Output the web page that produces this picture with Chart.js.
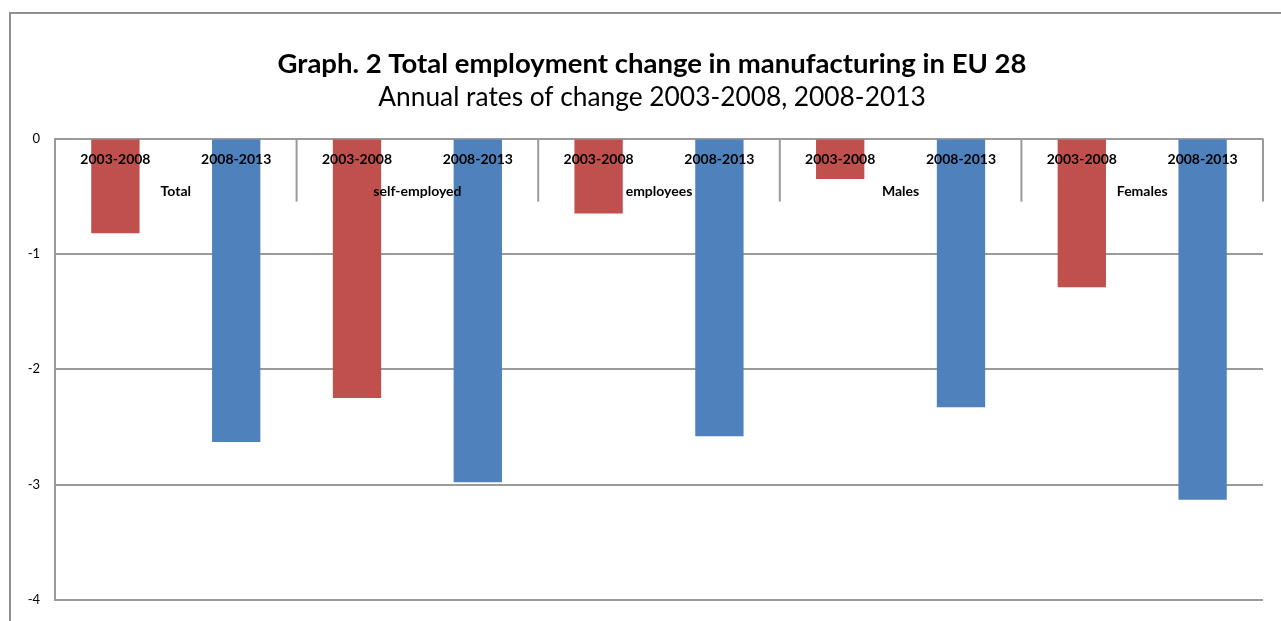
<!DOCTYPE html>
<html>
<head>
<meta charset="utf-8">
<title>Graph. 2 Total employment change in manufacturing in EU 28</title>
<script src="https://cdn.jsdelivr.net/npm/chart.js@4.4.1/dist/chart.umd.min.js"></script>
<style>
  html, body { margin: 0; padding: 0; background: #fff; overflow: hidden; }
  #frame {
    position: absolute; left: 9px; top: 12px;
    width: 1282px; height: 640px;
    border: 2px solid #8f8f8f;
  }
</style>
</head>
<body>
<div id="frame"><canvas id="chart" width="1282" height="640"></canvas></div>
<script>
// periods shown under the zero line, one per bar
const periods = ["2003-2008", "2008-2013", "2003-2008", "2008-2013", "2003-2008",
                 "2008-2013", "2003-2008", "2008-2013", "2003-2008", "2008-2013"];
// second row of the category axis, each spanning two bars
const groups = ["Total", "self-employed", "employees", "Males", "Females"];
// annual rates of change, %
const rates = [-0.82, -2.63, -2.25, -2.98, -0.65, -2.58, -0.35, -2.33, -1.29, -3.13];
const yTicks = [0, -1, -2, -3, -4];

const RED = "#c0504d";
const BLUE = "#4f81bd";
const FONT = "Lato, 'Open Sans', sans-serif";

// draws the two-level category labels and the group separators inside the plot
const groupAxis = {
  id: "groupAxis",
  afterDatasetsDraw(chart) {
    const { ctx, scales: { x, y } } = chart;
    const top = y.getPixelForValue(0);
    ctx.save();
    ctx.fillStyle = "#000";
    ctx.textAlign = "center";
    ctx.textBaseline = "middle";

    ctx.font = "bold 14px " + FONT;
    periods.forEach((p, i) => {
      ctx.fillText(p, x.getPixelForValue(i), top + 21);
    });

    groups.forEach((g, k) => {
      const cx = (x.getPixelForValue(2 * k) + x.getPixelForValue(2 * k + 1)) / 2;
      ctx.fillText(g, cx, top + 53);
    });

    ctx.strokeStyle = "#9a9a9a";
    ctx.lineWidth = 2;
    for (let k = 1; k <= groups.length; k++) {
      const bx = k < groups.length
        ? (x.getPixelForValue(2 * k - 1) + x.getPixelForValue(2 * k)) / 2
        : x.right;
      ctx.beginPath();
      ctx.moveTo(bx, top);
      ctx.lineTo(bx, top + 63);
      ctx.stroke();
    }
    ctx.restore();
  }
};

new Chart(document.getElementById("chart"), {
  type: "bar",
  data: {
    labels: periods,
    datasets: [{
      data: rates,
      backgroundColor: rates.map((_, i) => i % 2 === 0 ? RED : BLUE),
      barPercentage: 0.4,
      categoryPercentage: 1
    }]
  },
  options: {
    responsive: false,
    animation: false,
    layout: { padding: { left: 0, right: 0, top: 0, bottom: 54 } },
    plugins: {
      legend: { display: false },
      tooltip: { enabled: false },
      title: {
        display: true,
        text: "Graph. 2 Total employment change in manufacturing in EU 28",
        color: "#000",
        font: { family: FONT, size: 27.5, weight: "bold" },
        padding: { top: 34, bottom: 0 }
      },
      subtitle: {
        display: true,
        text: "Annual rates of change 2003-2008, 2008-2013",
        color: "#000",
        font: { family: FONT, size: 26.3, weight: "normal" },
        padding: { top: 1, bottom: 25 }
      }
    },
    scales: {
      x: { display: false },
      y: {
        min: -4,
        max: 0,
        afterFit(scale) { scale.width = 44; },
        afterBuildTicks(scale) { scale.ticks = yTicks.map(v => ({ value: v })); },
        border: { display: true, color: "#9a9a9a", width: 2 },
        grid: { color: "#9a9a9a", lineWidth: 2, drawTicks: false },
        ticks: {
          color: "#000",
          padding: 15,
          font: { family: FONT, size: 13 }
        }
      },
      // empty right-hand axis, only keeps a margin so the titles stay centred on the frame
      yRight: {
        position: "right",
        min: -4,
        max: 0,
        afterFit(scale) { scale.width = 30; },
        border: { display: false },
        grid: { display: false },
        ticks: { display: false }
      }
    }
  },
  plugins: [groupAxis]
});
</script>
</body>
</html>
